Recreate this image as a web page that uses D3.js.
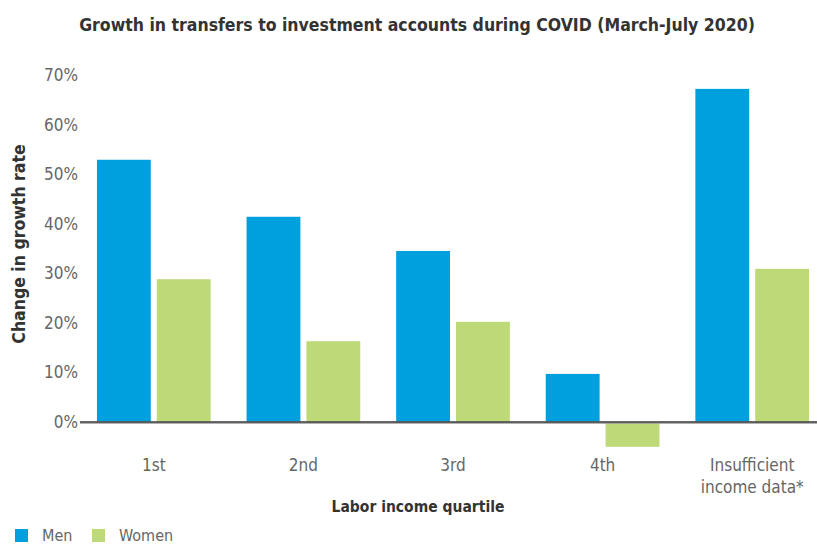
<!DOCTYPE html>
<html>
<head>
<meta charset="utf-8">
<script src="https://cdn.jsdelivr.net/npm/d3@7"></script>
<style>
  body { margin: 0; background: #fff; }
  text { font-family: "Liberation Sans Narrow", "DejaVu Sans Condensed", "Open Sans", sans-serif; }
</style>
</head>
<body>
<svg width="817" height="545"></svg>
<script>
var quartiles = ["1st", "2nd", "3rd", "4th", "Insufficient income data*"]
var series = ["Men", "Women"]
var men = [52.9, 41.4, 34.5, 9.7, 67.2]
var women = [28.8, 16.3, 20.2, -5.0, 30.9]
var yTicks = [0, 10, 20, 30, 40, 50, 60, 70]
var colors = ["#00a0de", "#bdd978"]

var svg = d3.select("svg")

var x = d3.scaleBand().domain(quartiles).range([79, 827]).paddingInner(0.24).paddingOuter(0.12)
var x1 = d3.scaleBand().domain(series).range([0, x.bandwidth()]).paddingInner(0.1)
var y = d3.scaleLinear().domain([0, 70]).range([422, 75])

svg.append("text")
   .attr("x", 417)
   .attr("y", 31)
   .attr("text-anchor", "middle")
   .attr("fill", "#333")
   .attr("font-size", "17.5px")
   .attr("font-weight", "bold")
   .text("Growth in transfers to investment accounts during COVID (March-July 2020)")

// y axis labels, no line
var yAxis = svg.append("g")
   .attr("transform", "translate(78,0)")
   .call(d3.axisLeft(y).tickValues(yTicks).tickSize(0).tickPadding(0).tickFormat(function (d) { return d + "%" }))
yAxis.select(".domain").remove()
yAxis.selectAll("text")
   .attr("fill", "#666")
   .attr("font-size", "17px")
   .style("font-family", null)

svg.append("text")
   .attr("transform", "translate(25,244) rotate(-90)")
   .attr("text-anchor", "middle")
   .attr("fill", "#333")
   .attr("font-size", "17.5px")
   .attr("font-weight", "bold")
   .text("Change in growth rate")

var data = []
for (i = 0; i < quartiles.length; i++) {
  data.push({ q: quartiles[i], s: "Men", v: men[i] })
  data.push({ q: quartiles[i], s: "Women", v: women[i] })
}

svg.append("g")
   .selectAll("rect")
   .data(data)
   .enter()
   .append("rect")
   .attr("x", function (d) { return x(d.q) + x1(d.s) })
   .attr("y", function (d) { return y(Math.max(0, d.v)) })
   .attr("width", x1.bandwidth())
   .attr("height", function (d) { return Math.abs(y(d.v) - y(0)) })
   .style("fill", function (d) { return colors[series.indexOf(d.s)] })

// zero line
svg.append("line")
   .attr("x1", 80).attr("x2", 817)
   .attr("y1", y(0) + 0.5).attr("y2", y(0) + 0.5)
   .style("stroke", "#999")
   .style("stroke-width", 2.5)
svg.append("line")
   .attr("x1", 80).attr("x2", 817)
   .attr("y1", y(0)).attr("y2", y(0))
   .style("stroke", "#222")
   .style("stroke-width", 1.2)

// category labels
var xAxis = svg.append("g")
   .attr("transform", "translate(0,422)")
   .call(d3.axisBottom(x).tickSize(0).tickPadding(0))
xAxis.select(".domain").remove()
xAxis.selectAll(".tick text").remove()
xAxis.selectAll(".tick").each(function (d) {
  var lines = d == "Insufficient income data*" ? ["Insufficient", "income data*"] : [d]
  var t = d3.select(this).append("text")
     .attr("fill", "#666")
     .attr("font-size", "17px")
     .attr("text-anchor", "middle")
  lines.forEach(function (l, k) {
    t.append("tspan").attr("x", 0).attr("y", 49 + k * 22).text(l)
  })
})

svg.append("text")
   .attr("x", 418)
   .attr("y", 512)
   .attr("text-anchor", "middle")
   .attr("fill", "#333")
   .attr("font-size", "15.5px")
   .attr("font-weight", "bold")
   .text("Labor income quartile")

// legend
var legendX = [15, 92]
var legend = svg.append("g")
series.forEach(function (s, i) {
  legend.append("rect")
     .attr("x", legendX[i]).attr("y", 529)
     .attr("width", 13).attr("height", 13)
     .style("fill", colors[i])
  legend.append("text")
     .attr("x", legendX[i] + 27).attr("y", 541)
     .attr("fill", "#666")
     .attr("font-size", "16px")
     .text(s)
})
</script>
</body>
</html>
